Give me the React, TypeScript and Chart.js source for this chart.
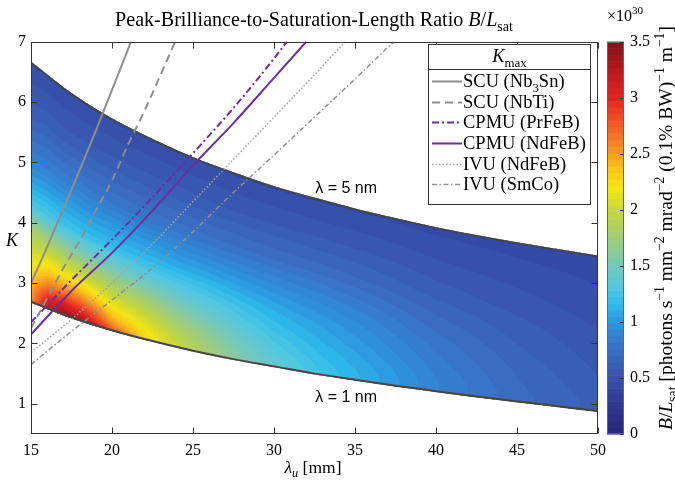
import React, { useEffect, useRef } from 'react';
import { Chart, registerables } from 'chart.js';

Chart.register(...registerables);

// ---------- axis ticks ----------
const xTicks = [15, 20, 25, 30, 35, 40, 45, 50];
const yTicks = [1, 2, 3, 4, 5, 6, 7];
const cbTicks = [0, 0.5, 1, 1.5, 2, 2.5, 3, 3.5];

// ---------- band boundaries (K at lambda = 5 nm and lambda = 1 nm) ----------
const bandLambdaU = [15, 17.5, 20, 22.5, 25, 27.5, 30, 32.5, 35, 37.5, 40, 42.5, 45, 47.5, 50];
const kUpper5nm = [6.65, 6.13, 5.71, 5.37, 5.07, 4.82, 4.59, 4.4, 4.22, 4.06, 3.91, 3.78, 3.66, 3.55, 3.44];
const kLower1nm = [2.69, 2.43, 2.22, 2.04, 1.88, 1.74, 1.62, 1.5, 1.4, 1.3, 1.21, 1.12, 1.04, 0.96, 0.88];

// ---------- B/Lsat (x1e30) grid: columns of lambda_u, rows = fraction across band (0 = 1 nm edge, 1 = 5 nm edge) ----------
const gridLambdaU = [15, 16, 17, 18, 19, 20, 22, 24, 26, 28, 30, 33, 36, 40, 45, 50];
const gridBandFraction = [0, 0.05, 0.1, 0.15, 0.2, 0.3, 0.4, 0.5, 0.6, 0.8, 1];
const ratioGrid = [
  [2.55, 2.45, 2.32, 2.2, 2.05, 1.8, 1.3, 1.05, 0.85, 0.6, 0.47],
  [3.2, 2.95, 2.6, 2.35, 2.15, 1.75, 1.28, 1.06, 0.87, 0.62, 0.47],
  [3.35, 3.05, 2.65, 2.35, 2.1, 1.65, 1.22, 1.04, 0.85, 0.6, 0.47],
  [3.3, 2.95, 2.6, 2.3, 2.05, 1.6, 1.2, 1.02, 0.85, 0.6, 0.47],
  [3.05, 2.75, 2.45, 2.2, 1.95, 1.55, 1.18, 1.0, 0.83, 0.6, 0.47],
  [2.75, 2.45, 2.25, 2.05, 1.85, 1.5, 1.17, 1.0, 0.82, 0.6, 0.47],
  [2.3, 2.2, 2.05, 1.9, 1.75, 1.42, 1.15, 0.98, 0.8, 0.6, 0.47],
  [2.0, 1.92, 1.82, 1.7, 1.58, 1.35, 1.12, 0.95, 0.8, 0.6, 0.47],
  [1.78, 1.72, 1.64, 1.55, 1.46, 1.28, 1.1, 0.93, 0.78, 0.59, 0.47],
  [1.58, 1.53, 1.47, 1.4, 1.33, 1.2, 1.05, 0.9, 0.77, 0.58, 0.46],
  [1.4, 1.37, 1.32, 1.27, 1.22, 1.12, 1.0, 0.88, 0.75, 0.58, 0.46],
  [1.22, 1.2, 1.17, 1.14, 1.1, 1.03, 0.94, 0.84, 0.73, 0.57, 0.46],
  [1.08, 1.07, 1.05, 1.02, 0.99, 0.93, 0.86, 0.78, 0.69, 0.56, 0.46],
  [0.88, 0.88, 0.87, 0.85, 0.83, 0.79, 0.74, 0.68, 0.62, 0.53, 0.45],
  [0.72, 0.72, 0.71, 0.7, 0.69, 0.66, 0.63, 0.6, 0.56, 0.5, 0.44],
  [0.62, 0.62, 0.61, 0.6, 0.59, 0.57, 0.55, 0.53, 0.51, 0.47, 0.43],
];

// ---------- K_max curves ----------
const scuNb3SnU = [15, 16, 17, 18, 19, 20, 21, 21.17];
const scuNb3SnK = [3.0, 3.6, 4.23, 4.87, 5.52, 6.2, 6.88, 7.0];
const scuNbTiU = [15, 16, 17, 18, 19, 20, 21, 22, 23, 23.9];
const scuNbTiK = [2.25, 2.75, 3.25, 3.7, 4.2, 4.7, 5.3, 5.85, 6.45, 7.0];
const cpmuPrFeBU = [15, 17.5, 20, 22.5, 25, 27.5, 30, 30.8];
const cpmuPrFeBK = [2.35, 3.05, 3.72, 4.42, 5.15, 5.9, 6.72, 7.0];
const cpmuNdFeBU = [15, 17.5, 20, 22.5, 25, 27.5, 30, 32];
const cpmuNdFeBK = [2.15, 2.87, 3.5, 4.2, 4.95, 5.65, 6.4, 7.0];
const ivuNdFeBU = [15, 17.5, 20, 22.5, 25, 27.5, 30, 32.5, 34.4];
const ivuNdFeBK = [1.85, 2.4, 3.0, 3.65, 4.35, 5.05, 5.75, 6.45, 7.0];
const ivuSmCoU = [15, 17.5, 20, 22.5, 25, 27.5, 30, 32.5, 35, 37.4];
const ivuSmCoK = [1.65, 2.2, 2.72, 3.25, 3.85, 4.5, 5.12, 5.75, 6.38, 7.0];

// ---------- colormap ----------
const cmapStops = [0, 0.25, 0.5, 0.75, 1.0, 1.15, 1.3, 1.5, 1.75, 2.0, 2.2, 2.35, 2.6, 2.85, 3.0, 3.25, 3.5];
const cmapColors = [
  [38, 38, 115], [48, 55, 145], [55, 80, 170], [58, 110, 195], [45, 150, 222], [45, 185, 235],
  [80, 200, 225], [115, 200, 190], [160, 205, 120], [200, 215, 55], [245, 230, 20], [250, 200, 25],
  [245, 130, 35], [240, 70, 35], [228, 35, 35], [180, 25, 28], [130, 20, 25],
];
const LEVELS = 60;
const LEVEL_STEP = 3.5 / LEVELS;

const SERIF = "'Liberation Serif', 'DejaVu Serif', serif";
const SANS = "'Liberation Sans', 'DejaVu Sans', sans-serif";
const GRAY = '#8e8e8e';
const LGRAY = '#a2a2a2';
const PURPLE = '#6b2f9e';

function interp(xs: number[], ys: number[], x: number) {
  if (x <= xs[0]) return ys[0];
  if (x >= xs[xs.length - 1]) return ys[ys.length - 1];
  let i = 0;
  while (i < xs.length - 2 && x > xs[i + 1]) i++;
  const f = (x - xs[i]) / (xs[i + 1] - xs[i]);
  return ys[i] + f * (ys[i + 1] - ys[i]);
}

// monotone cubic (same scheme as Chart.js 'monotone'), for band edges used by the heat fill
function monotoneSlopes(xs: number[], ys: number[]) {
  const n = xs.length;
  const d: number[] = [];
  for (let i = 0; i < n - 1; i++) d.push((ys[i + 1] - ys[i]) / (xs[i + 1] - xs[i]));
  const m: number[] = [];
  for (let i = 0; i < n; i++) {
    if (i === 0) m.push(d[0]);
    else if (i === n - 1) m.push(d[n - 2]);
    else m.push(Math.sign(d[i - 1]) !== Math.sign(d[i]) ? 0 : (d[i - 1] + d[i]) / 2);
  }
  for (let i = 0; i < n - 1; i++) {
    if (d[i] === 0) { m[i] = 0; m[i + 1] = 0; continue; }
    const a = m[i] / d[i], b = m[i + 1] / d[i];
    const s = a * a + b * b;
    if (s > 9) {
      const tau = 3 / Math.sqrt(s);
      m[i] = a * tau * d[i];
      m[i + 1] = b * tau * d[i];
    }
  }
  return m;
}
function monoInterp(xs: number[], ys: number[], m: number[], x: number) {
  if (x <= xs[0]) return ys[0];
  if (x >= xs[xs.length - 1]) return ys[ys.length - 1];
  let i = 0;
  while (i < xs.length - 2 && x > xs[i + 1]) i++;
  const h = xs[i + 1] - xs[i];
  const t = (x - xs[i]) / h;
  const t2 = t * t, t3 = t2 * t;
  return (2 * t3 - 3 * t2 + 1) * ys[i] + (t3 - 2 * t2 + t) * h * m[i] + (-2 * t3 + 3 * t2) * ys[i + 1] + (t3 - t2) * h * m[i + 1];
}

function findIdx(xs: number[], x: number) {
  let i = 0;
  while (i < xs.length - 2 && x > xs[i + 1]) i++;
  const f = Math.max(0, Math.min(1, (x - xs[i]) / (xs[i + 1] - xs[i])));
  return [i, f];
}

function gridValue(lu: number, t: number) {
  const [i, fx] = findIdx(gridLambdaU, lu);
  const [j, fy] = findIdx(gridBandFraction, t);
  const a = ratioGrid[i][j], b = ratioGrid[i + 1][j], c = ratioGrid[i][j + 1], d = ratioGrid[i + 1][j + 1];
  return (a * (1 - fx) + b * fx) * (1 - fy) + (c * (1 - fx) + d * fx) * fy;
}

function cmap(v: number) {
  const r = interp(cmapStops, cmapColors.map((c) => c[0]), v);
  const g = interp(cmapStops, cmapColors.map((c) => c[1]), v);
  const b = interp(cmapStops, cmapColors.map((c) => c[2]), v);
  return [Math.round(r), Math.round(g), Math.round(b)];
}

function quant(v: number) {
  const k = Math.min(LEVELS - 1, Math.max(0, Math.floor(v / LEVEL_STEP)));
  return (k + 0.5) * LEVEL_STEP;
}

type Seg = { s: string; i?: boolean; b?: 'sub' | 'sup' };

function segFont(sg: Seg, size: number, fam: string) {
  const sz = sg.b ? size * 0.7 : size;
  return `${sg.i ? 'italic ' : ''}${sz}px ${fam}`;
}

function richWidth(ctx: CanvasRenderingContext2D, segs: Seg[], size: number, fam: string) {
  let w = 0;
  for (const sg of segs) {
    ctx.font = segFont(sg, size, fam);
    w += ctx.measureText(sg.s).width;
  }
  return w;
}

function fitSize(ctx: CanvasRenderingContext2D, segs: Seg[], fam: string, base: number, target: number) {
  const w = richWidth(ctx, segs, base, fam);
  return (base * target) / w;
}

function drawRich(ctx: CanvasRenderingContext2D, segs: Seg[], x: number, y: number, size: number, fam: string, align: 'left' | 'center' | 'right') {
  const w = richWidth(ctx, segs, size, fam);
  let cx = align === 'center' ? x - w / 2 : align === 'right' ? x - w : x;
  ctx.textAlign = 'left';
  ctx.textBaseline = 'alphabetic';
  for (const sg of segs) {
    ctx.font = segFont(sg, size, fam);
    const dy = sg.b === 'sub' ? size * 0.25 : sg.b === 'sup' ? -size * 0.42 : 0;
    ctx.fillText(sg.s, cx, y + dy);
    cx += ctx.measureText(sg.s).width;
  }
}

const legendLabels: Seg[][] = [
  [{ s: 'SCU (Nb' }, { s: '3', b: 'sub' }, { s: 'Sn)' }],
  [{ s: 'SCU (NbTi)' }],
  [{ s: 'CPMU (PrFeB)' }],
  [{ s: 'CPMU (NdFeB)' }],
  [{ s: 'IVU (NdFeB)' }],
  [{ s: 'IVU (SmCo)' }],
];

const heatPlugin = {
  id: 'heat',
  beforeDatasetsDraw(chart: any) {
    const { ctx, chartArea: a } = chart;
    const xs = chart.scales.x, ys = chart.scales.y;
    const mLo = monotoneSlopes(bandLambdaU, kLower1nm);
    const mHi = monotoneSlopes(bandLambdaU, kUpper5nm);
    const w = Math.round(a.right - a.left), h = Math.round(a.bottom - a.top);
    const off = document.createElement('canvas');
    off.width = w;
    off.height = h;
    const octx = off.getContext('2d')!;
    const img = octx.createImageData(w, h);
    for (let px = 0; px < w; px++) {
      const lu = xs.getValueForPixel(a.left + px + 0.5);
      const lo = monoInterp(bandLambdaU, kLower1nm, mLo, lu);
      const hi = monoInterp(bandLambdaU, kUpper5nm, mHi, lu);
      for (let py = 0; py < h; py++) {
        const k = ys.getValueForPixel(a.top + py + 0.5);
        const t = (k - lo) / (hi - lo);
        if (t < -0.004 || t > 1.004) continue;
        const [r, g, b] = cmap(quant(gridValue(lu, Math.max(0, Math.min(1, t)))));
        const idx = (py * w + px) * 4;
        img.data[idx] = r;
        img.data[idx + 1] = g;
        img.data[idx + 2] = b;
        img.data[idx + 3] = 255;
      }
    }
    octx.putImageData(img, 0, 0);
    ctx.drawImage(off, a.left, a.top);
  },
};

const decorPlugin = {
  id: 'decor',
  afterDatasetsDraw(chart: any) {
    const { ctx, chartArea: a } = chart;
    const xs = chart.scales.x, ys = chart.scales.y;
    ctx.save();
    // annotations
    ctx.fillStyle = '#000';
    ctx.font = `16px ${SANS}`;
    ctx.textAlign = 'center';
    ctx.textBaseline = 'middle';
    ctx.fillText('λ = 5 nm', xs.getPixelForValue(34.45), ys.getPixelForValue(4.56));
    ctx.fillText('λ = 1 nm', xs.getPixelForValue(34.45), ys.getPixelForValue(1.11));
    // frame
    ctx.strokeStyle = '#333';
    ctx.lineWidth = 1;
    const L = Math.round(a.left) + 0.5, R = Math.round(a.right) - 0.5, T = Math.round(a.top) + 0.5, B = Math.round(a.bottom) - 0.5;
    ctx.strokeRect(L, T, R - L, B - T);
    ctx.beginPath();
    for (const v of xTicks) {
      const p = Math.round(xs.getPixelForValue(v)) + 0.5;
      ctx.moveTo(p, B); ctx.lineTo(p, B - 6);
      ctx.moveTo(p, T); ctx.lineTo(p, T + 6);
    }
    for (const v of yTicks) {
      const p = Math.round(ys.getPixelForValue(v)) + 0.5;
      ctx.moveTo(L, p); ctx.lineTo(L + 6, p);
      ctx.moveTo(R, p); ctx.lineTo(R - 6, p);
    }
    ctx.stroke();

    // legend
    const bx0 = 428.5, bx1 = 590.5, by0 = 44.5, by1 = 204.5, sep = 69.5;
    ctx.fillStyle = '#fff';
    ctx.fillRect(bx0, by0, bx1 - bx0, by1 - by0);
    ctx.strokeStyle = '#333';
    ctx.strokeRect(bx0, by0, bx1 - bx0, by1 - by0);
    ctx.beginPath(); ctx.moveTo(bx0, sep); ctx.lineTo(bx1, sep); ctx.stroke();
    ctx.fillStyle = '#000';
    drawRich(ctx, [{ s: 'K', i: true }, { s: 'max', b: 'sub' }], (bx0 + bx1) / 2, 62, 18.5, SERIF, 'center');
    const rowY = [81, 102, 122, 143, 164, 184];
    chart.data.datasets.slice(0, 6).forEach((ds: any, k: number) => {
      const yy = rowY[k] + 0.5;
      ctx.save();
      ctx.strokeStyle = ds.borderColor;
      ctx.lineWidth = ds.borderWidth;
      ctx.setLineDash(ds.borderDash || []);
      ctx.beginPath(); ctx.moveTo(432, yy); ctx.lineTo(462, yy); ctx.stroke();
      ctx.restore();
      ctx.fillStyle = '#000';
      drawRich(ctx, legendLabels[k], 463, rowY[k] + 6, 18.5, SERIF, 'left');
    });
    ctx.restore();
  },
  afterDraw(chart: any) {
    const { ctx, chartArea: a } = chart;
    const cb = chart.scales.y2;
    ctx.save();
    // colorbar
    const x0 = Math.round(a.right) + 9, x1 = x0 + 17;
    for (let k = 0; k < LEVELS; k++) {
      const v0 = k * LEVEL_STEP, v1 = (k + 1) * LEVEL_STEP;
      const yT = cb.getPixelForValue(v1), yB = cb.getPixelForValue(v0);
      const [r, g, b] = cmap((v0 + v1) / 2);
      ctx.fillStyle = `rgb(${r},${g},${b})`;
      ctx.fillRect(x0, yT, x1 - x0, yB - yT + 0.6);
    }
    ctx.strokeStyle = '#666';
    ctx.lineWidth = 1;
    ctx.strokeRect(x0 + 0.5, Math.round(a.top) + 0.5, x1 - x0 - 1, Math.round(a.bottom - a.top) - 1);
    ctx.strokeStyle = '#333';
    ctx.beginPath();
    for (const v of cbTicks) {
      const p = Math.round(cb.getPixelForValue(v)) + 0.5;
      ctx.moveTo(x1 - 0.5, p); ctx.lineTo(x1 - 4, p);
    }
    ctx.stroke();
    ctx.fillStyle = '#000';
    drawRich(ctx, [{ s: '×10' }, { s: '30', b: 'sup' }], x0, 21, 16, SERIF, 'left');

    // title
    const titleSegs: Seg[] = [
      { s: 'Peak-Brilliance-to-Saturation-Length Ratio ' },
      { s: 'B', i: true }, { s: '/' }, { s: 'L', i: true }, { s: 'sat', b: 'sub' },
    ];
    const ts = fitSize(ctx, titleSegs, SERIF, 17, 398);
    drawRich(ctx, titleSegs, 314, 26, ts, SERIF, 'center');

    // x label
    const xl: Seg[] = [{ s: 'λ', i: true }, { s: 'u', i: true, b: 'sub' }, { s: ' [mm]' }];
    drawRich(ctx, xl, 313, 473, 17.5, SERIF, 'center');
    // y label
    drawRich(ctx, [{ s: 'K', i: true }], 12, 246, 18, SERIF, 'center');

    // colorbar label (rotated)
    const cl: Seg[] = [
      { s: 'B', i: true }, { s: '/' }, { s: 'L', i: true }, { s: 'sat', b: 'sub' },
      { s: ' [photons s' }, { s: '−1', b: 'sup' }, { s: ' mm' }, { s: '−2', b: 'sup' },
      { s: ' mrad' }, { s: '−2', b: 'sup' }, { s: ' (0.1% BW)' }, { s: '−1', b: 'sup' },
      { s: ' m' }, { s: '−1', b: 'sup' }, { s: ']' },
    ];
    const cs = fitSize(ctx, cl, SERIF, 16, 404);
    ctx.translate(672, 228);
    ctx.rotate(-Math.PI / 2);
    drawRich(ctx, cl, 0, 0, cs, SERIF, 'center');
    ctx.restore();
  },
};

const pts = (xs: number[], ys: number[]) => xs.map((x, i) => ({ x, y: ys[i] }));
const fmt = (v: any) => String(Number(v));

export default function App() {
  const ref = useRef<HTMLCanvasElement>(null);
  useEffect(() => {
    const lineBase = { pointRadius: 0, fill: false, cubicInterpolationMode: 'monotone' as const };
    const chart = new Chart(ref.current!, {
      type: 'line',
      data: {
        datasets: [
          { ...lineBase, label: 'SCU (Nb3Sn)', data: pts(scuNb3SnU, scuNb3SnK), borderColor: GRAY, borderWidth: 2 },
          { ...lineBase, label: 'SCU (NbTi)', data: pts(scuNbTiU, scuNbTiK), borderColor: GRAY, borderWidth: 2, borderDash: [8, 5] },
          { ...lineBase, label: 'CPMU (PrFeB)', data: pts(cpmuPrFeBU, cpmuPrFeBK), borderColor: PURPLE, borderWidth: 2, borderDash: [7, 3, 2, 3] },
          { ...lineBase, label: 'CPMU (NdFeB)', data: pts(cpmuNdFeBU, cpmuNdFeBK), borderColor: PURPLE, borderWidth: 2 },
          { ...lineBase, label: 'IVU (NdFeB)', data: pts(ivuNdFeBU, ivuNdFeBK), borderColor: LGRAY, borderWidth: 1.5, borderDash: [1.5, 2] },
          { ...lineBase, label: 'IVU (SmCo)', data: pts(ivuSmCoU, ivuSmCoK), borderColor: GRAY, borderWidth: 1.5, borderDash: [5, 2.5, 1.5, 2.5] },
          { ...lineBase, label: 'λ = 5 nm', data: pts(bandLambdaU, kUpper5nm), borderColor: '#454545', borderWidth: 2, order: 5 },
          { ...lineBase, label: 'λ = 1 nm', data: pts(bandLambdaU, kLower1nm), borderColor: '#454545', borderWidth: 2, order: 5 },
        ],
      },
      options: {
        responsive: false,
        animation: false,
        events: [],
        layout: { padding: { top: 36, left: 0, right: 0, bottom: 0 } },
        plugins: { legend: { display: false }, tooltip: { enabled: false }, title: { display: false } },
        scales: {
          x: {
            type: 'linear', min: 15, max: 50,
            afterBuildTicks: (s: any) => { s.ticks = xTicks.map((v) => ({ value: v })); },
            afterFit: (s: any) => { s.height = 46; },
            grid: { display: false, drawTicks: false },
            border: { display: false },
            ticks: { color: '#000', padding: 7, maxRotation: 0, callback: fmt, font: { family: SERIF, size: 16 } },
          },
          y: {
            type: 'linear', min: 0.5, max: 7,
            afterBuildTicks: (s: any) => { s.ticks = yTicks.map((v) => ({ value: v })); },
            afterFit: (s: any) => { s.width = 31; },
            grid: { display: false, drawTicks: false },
            border: { display: false },
            ticks: { color: '#000', padding: 5, callback: fmt, font: { family: SERIF, size: 16 } },
          },
          y2: {
            type: 'linear', position: 'right', min: 0, max: 3.5,
            afterBuildTicks: (s: any) => { s.ticks = cbTicks.map((v) => ({ value: v })); },
            afterFit: (s: any) => { s.width = 77; },
            grid: { display: false, drawTicks: false },
            border: { display: false },
            ticks: { color: '#000', padding: 32, callback: fmt, font: { family: SERIF, size: 16 } },
          },
        },
      } as any,
      plugins: [heatPlugin, decorPlugin],
    });
    return () => chart.destroy();
  }, []);
  return (
    <div style={{ position: 'fixed', left: 0, top: 0, width: 675, height: 480, background: '#fff' }}>
      <canvas ref={ref} width={675} height={480} style={{ display: 'block', width: 675, height: 480 }} />
    </div>
  );
}
